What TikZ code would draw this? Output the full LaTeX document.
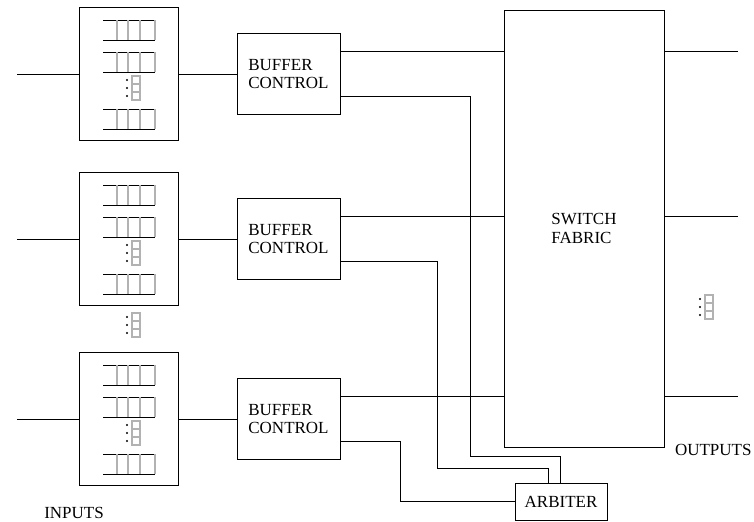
\documentclass[tikz,border=0pt]{standalone}
\usepackage{fontspec}
\setmainfont{Liberation Serif}
\usetikzlibrary{calc,positioning}

\tikzset{
  blk/.style={draw, line width=0.8pt, inner sep=0pt, align=left},
  queue/.pic={
    \draw[line width=0.8pt] (-25.5,0) -- (26.5,0) (-25.5,20) -- (26.5,20);
    \foreach \vx in {-11.5,-0.5,11.5,26.5}
      \draw[gray!60, line width=1.6pt] (\vx,0) -- (\vx,20);
  },
  morequeues/.pic={
    \foreach \dy in {-8,0,8} \fill (-1.5,\dy) circle (0.9pt);
    \foreach \dy in {-12,-4,4}
      \draw[gray!60, line width=1pt] (3.5,\dy) rectangle (11.5,\dy+8);
  }
}

\begin{document}
\begin{tikzpicture}[x=0.03cm, y=-0.03cm, line width=0.8pt, font=\fontsize{14.5}{15.5}\selectfont]
  \useasboundingbox (0,0) rectangle (754,521);
  \coordinate (inx) at (17,0);
  \coordinate (outx) at (738,0);

  \node[blk, minimum width=4.8cm, minimum height=13.11cm] (fab) at (584,228.5) {SWITCH\\FABRIC};
  \node[blk, minimum width=2.76cm, minimum height=1.11cm] (arb) at (561,501.5) {ARBITER};

  \foreach \i/\y in {1/74,2/239,3/419} {
    \node[blk, minimum width=2.97cm, minimum height=3.99cm] (q\i) at (128.5,\y) {};
    \node[blk, minimum width=3.09cm, minimum height=2.43cm] (bc\i) at (288.5,\y) {BUFFER\\CONTROL};
    \pic at ($(q\i.center)+(0,-54)$) {queue};
    \pic at ($(q\i.center)+(0,-22)$) {queue};
    \pic at ($(q\i.center)+(0,35)$) {queue};
    \pic at ($(q\i.center)+(0,14)$) {morequeues};
    \draw (q\i.west -| inx) -- (q\i.west);
    \draw (q\i.east) -- (bc\i.west);
    \draw ($(bc\i.east)+(0,-22.5)$) coordinate (b\i) -- (b\i -| fab.west);
    \draw (b\i -| fab.east) -- (b\i -| outx);
  }

  % lines to the arbiter
  \draw ($(bc1.east)+(0,22.5)$) -| (470,456) -| ($(arb.north)+(-1,0)$);
  \draw ($(bc2.east)+(0,22.5)$) -| (437,468) -| ($(arb.north)+(-13,0)$);
  \draw ($(bc3.east)+(0,22.5)$) -| (400,501.5) -- (arb.west);

  \pic at (128.5,325) {morequeues};
  \pic at (701.5,307) {morequeues};

  \node (inlbl) at (74,513) {INPUTS};
  \node[anchor=east, inner sep=0pt] (outlbl) at (752,449.5) {OUTPUTS};
\end{tikzpicture}
\end{document}
